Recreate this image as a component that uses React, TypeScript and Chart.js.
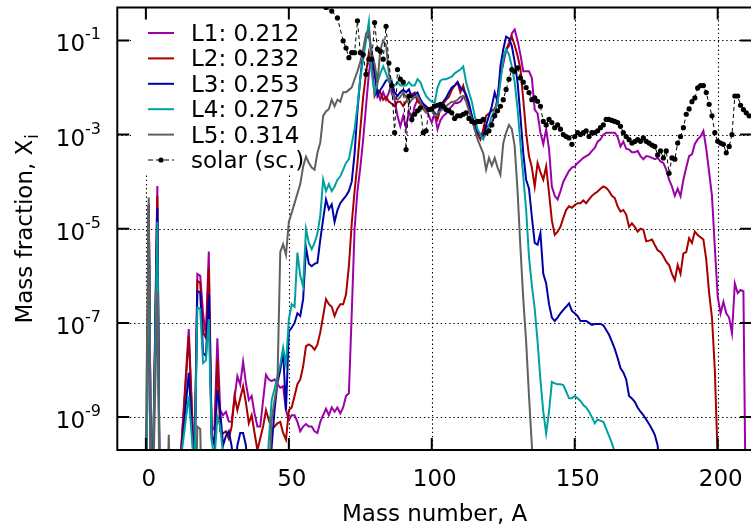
import React, { useEffect, useRef } from 'react';
import { Chart, registerables } from 'chart.js';

Chart.register(...registerables);

const FONT = '"DejaVu Sans", sans-serif';

// Mass number A vs. mass fraction X for each trajectory ([A, X] pairs)
const L1: number[][] = [
  [0,1e-12],[1,3.2e-5],[2,1e-12],[4,8.1e-5],[5,1e-12],[12,1e-10],[15,7.4e-8],[17,6.3e-11],[18,1.1e-6],[19,1.0e-6],
  [20,1.6e-7],[21,5.2e-8],[22,3.3e-6],[23,5.0e-10],[24,6.3e-10],[25,4.7e-8],[26,1.4e-9],[27,1.1e-9],[28,1.3e-9],[29,8.1e-10],
  [30,7.9e-10],[31,2.5e-9],[32,7.4e-9],[33,4.9e-9],[34,1.5e-8],[35,5.2e-9],[36,2.3e-9],[37,2.8e-9],[38,1.2e-9],[39,6.3e-10],
  [40,6.3e-10],[41,2.3e-9],[42,7.9e-9],[43,6.3e-9],[44,5.8e-9],[45,6.3e-9],[46,5.0e-9],[47,4.2e-9],[48,4.5e-9],[49,1.4e-9],
  [50,8.7e-10],[51,1.1e-9],[52,1.1e-9],[53,7.9e-10],[54,5.0e-10],[55,6.3e-10],[56,7.1e-10],[57,6.3e-10],[58,6.3e-10],[59,5.0e-10],
  [60,4.6e-10],[61,7.9e-10],[62,1.1e-9],[63,1.5e-9],[64,1.1e-9],[65,1.6e-9],[66,1.3e-9],[67,1.6e-9],[68,1.2e-9],[69,1.6e-9],
  [70,2.8e-9],[71,3.2e-9],[72,1.6e-7],[73,1.0e-5],[74,6.3e-5],[75,2.0e-4],[76,7.9e-4],[77,4.0e-3],[78,2.0e-2],[79,5.6e-2],
  [80,2.5e-2],[81,7.9e-3],[82,5.5e-3],[83,7.9e-3],[84,5.5e-3],[85,7.9e-3],[86,1.3e-2],[87,5.5e-3],[88,2.5e-3],[89,1.5e-3],
  [90,2.5e-3],[91,1.4e-3],[92,3.2e-3],[93,2.0e-3],[94,4.0e-3],[95,5.5e-3],[96,4.5e-3],[97,4.0e-3],[98,3.5e-3],[99,2.5e-3],
  [100,1.8e-3],[101,2.8e-3],[102,1.3e-3],[103,2.0e-3],[104,2.5e-3],[105,2.8e-3],[106,3.5e-3],[107,4.0e-3],[108,4.7e-3],[109,4.7e-3],
  [110,5.0e-3],[111,6.3e-3],[112,6.6e-3],[113,4.0e-3],[114,2.5e-3],[115,1.3e-3],[116,1.1e-3],[117,1.0e-3],[118,9.1e-4],[119,1.4e-3],
  [120,1.6e-3],[121,1.8e-3],[122,2.5e-3],[123,6.6e-3],[124,1.7e-2],[125,3.2e-2],[126,6.3e-2],[127,7.6e-2],[128,0.14],[129,0.17],
  [130,0.10],[131,5.0e-2],[132,2.2e-2],[133,2.2e-2],[134,2.2e-2],[135,1.6e-2],[136,3.4e-3],[137,2.8e-3],[138,1.1e-3],[139,6.3e-4],
  [140,1.3e-3],[141,5.0e-4],[142,7.9e-5],[143,5.0e-5],[144,4.2e-5],[145,6.3e-5],[146,1.0e-4],[147,1.3e-4],[148,1.7e-4],[149,2.0e-4],
  [150,2.1e-4],[151,2.5e-4],[152,2.8e-4],[153,3.2e-4],[154,3.5e-4],[155,3.8e-4],[156,4.5e-4],[157,5.2e-4],[158,7.1e-4],[159,7.9e-4],
  [160,1.0e-3],[161,1.1e-3],[162,1.1e-3],[163,1.1e-3],[164,1.1e-3],[165,8.9e-4],[166,5.6e-4],[167,7.1e-4],[168,5.0e-4],[169,4.8e-4],
  [170,4.2e-4],[171,4.2e-4],[172,4.5e-4],[173,3.5e-4],[174,3.0e-4],[175,3.5e-4],[176,3.4e-4],[177,3.2e-4],[178,3.0e-4],[179,3.2e-4],
  [180,2.7e-4],[181,2.5e-4],[182,1.8e-4],[183,1.1e-4],[184,7.9e-5],[185,5.0e-5],[186,7.1e-5],[187,4.9e-5],[188,1.1e-4],[189,2.0e-4],
  [190,3.5e-4],[191,3.8e-4],[192,6.3e-4],[193,7.9e-4],[194,9.1e-4],[195,1.2e-3],[196,5.0e-4],[197,1.6e-4],[198,5.0e-5],[199,4.0e-6],
  [200,3.6e-7],[201,1.6e-7],[202,2.8e-7],[203,1.6e-7],[204,1.3e-7],[205,6.0e-8],[206,6.9e-7],[207,4.3e-7],[208,5.0e-7],[209,4.7e-7],
  [210,1e-12]
];

const L2: number[][] = [
  [0,1e-12],[1,3.2e-5],[2,1e-12],[4,5.0e-5],[5,1e-12],[12,1e-10],[15,5.2e-8],[17,6.3e-11],[18,7.8e-7],[19,7.1e-7],
  [20,6.2e-8],[21,4.8e-8],[22,1.5e-6],[23,3.5e-10],[24,3.2e-10],[25,1.7e-8],[26,5.0e-10],[27,4.5e-10],[28,5.0e-10],[29,3.5e-10],
  [30,6.3e-10],[31,2.8e-9],[32,1.4e-9],[33,2.5e-9],[34,4.5e-9],[35,2.0e-9],[36,7.4e-10],[37,1.1e-9],[38,4.6e-10],[39,2.0e-10],
  [40,3.5e-10],[41,6.3e-10],[42,1.4e-9],[43,8.7e-10],[44,5.4e-10],[45,6.3e-10],[46,7.4e-10],[47,7.9e-10],[48,4.6e-10],[49,3.3e-10],
  [50,1.4e-9],[51,1.6e-9],[52,2.8e-9],[53,5.0e-9],[54,6.3e-9],[55,1.2e-8],[56,3.2e-8],[57,3.5e-8],[58,3.2e-8],[59,2.7e-8],
  [60,3.5e-8],[61,6.3e-8],[62,1.4e-7],[63,3.2e-7],[64,2.5e-7],[65,2.2e-7],[66,1.4e-7],[67,2.0e-7],[68,2.5e-7],[69,2.5e-7],
  [70,4.0e-7],[71,1.6e-6],[72,1.3e-5],[73,6.3e-5],[74,2.5e-4],[75,1.3e-3],[76,6.3e-3],[77,2.0e-2],[78,5.5e-2],[79,3.2e-2],
  [80,6.6e-3],[81,8.9e-3],[82,7.9e-3],[83,5.5e-3],[84,6.3e-3],[85,5.0e-3],[86,4.5e-3],[87,4.0e-3],[88,5.0e-3],[89,5.0e-3],
  [90,4.0e-3],[91,5.0e-3],[92,6.3e-3],[93,7.1e-3],[94,7.8e-3],[95,5.0e-3],[96,4.5e-3],[97,4.0e-3],[98,3.5e-3],[99,3.2e-3],
  [100,3.2e-3],[101,2.8e-3],[102,2.1e-3],[103,3.5e-3],[104,4.5e-3],[105,5.5e-3],[106,6.3e-3],[107,8.9e-3],[108,1.1e-2],[109,1.3e-2],
  [110,7.9e-3],[111,1.1e-2],[112,6.3e-3],[113,4.0e-3],[114,2.0e-3],[115,1.4e-3],[116,1.0e-3],[117,7.9e-4],[118,1.3e-3],[119,2.5e-3],
  [120,2.8e-3],[121,3.2e-3],[122,3.5e-3],[123,5.0e-3],[124,1.6e-2],[125,4.0e-2],[126,6.3e-2],[127,8.9e-2],[128,0.12],[129,7.9e-2],
  [130,4.7e-2],[131,2.5e-2],[132,5.5e-3],[133,1.1e-3],[134,3.5e-4],[135,2.0e-4],[136,7.9e-5],[137,2.5e-4],[138,1.6e-4],[139,1.1e-4],
  [140,2.1e-4],[141,5.8e-5],[142,1.5e-5],[143,7.4e-6],[144,8.7e-6],[145,1.1e-5],[146,1.7e-5],[147,2.5e-5],[148,3.0e-5],[149,2.8e-5],
  [150,3.2e-5],[151,3.5e-5],[152,3.5e-5],[153,4.0e-5],[154,3.5e-5],[155,4.2e-5],[156,5.0e-5],[157,5.6e-5],[158,6.2e-5],[159,7.1e-5],
  [160,7.9e-5],[161,7.4e-5],[162,6.3e-5],[163,5.0e-5],[164,4.5e-5],[165,3.0e-5],[166,2.3e-5],[167,2.5e-5],[168,2.0e-5],[169,1.1e-5],
  [170,1.3e-5],[171,1.1e-5],[172,8.7e-6],[173,1.0e-5],[174,9.5e-6],[175,5.4e-6],[176,5.6e-6],[177,5.9e-6],[178,4.5e-6],[179,3.5e-6],
  [180,3.2e-6],[181,2.6e-6],[182,2.0e-6],[183,1.7e-6],[184,1.1e-6],[185,8.1e-7],[186,1.7e-6],[187,1.1e-6],[188,3.0e-6],[189,3.2e-6],
  [190,6.3e-6],[191,5.0e-6],[192,8.7e-6],[193,7.4e-6],[194,6.6e-6],[195,5.9e-6],[196,2.2e-6],[197,4.3e-7],[198,1.3e-7],[199,1.0e-8],
  [200,1.3e-10],[201,1e-12]
];

const L3: number[][] = [
  [0,1e-12],[1,3.2e-5],[2,1e-12],[4,2.8e-5],[5,1e-12],[12,1e-10],[15,8.7e-9],[17,6.3e-11],[18,4.7e-7],[19,4.5e-7],
  [20,2.3e-8],[21,2.0e-8],[22,4.0e-7],[23,4.5e-10],[24,2.5e-10],[25,3.8e-9],[26,1.3e-9],[27,2.5e-10],[28,4.0e-10],[29,5.0e-10],
  [30,2.4e-10],[31,6.3e-11],[32,2.5e-10],[33,4.6e-10],[34,4.6e-10],[35,2.5e-10],[36,3.2e-11],[43,3.2e-11],[44,2.4e-10],[45,1.4e-9],
  [46,5.2e-9],[47,1.0e-8],[48,2.5e-8],[49,1.4e-9],[50,6.6e-8],[51,7.9e-8],[52,1.0e-7],[53,1.6e-7],[54,1.4e-7],[55,3.2e-7],
  [56,4.0e-6],[57,1.8e-6],[58,1.6e-6],[59,1.8e-6],[60,1.9e-6],[61,5.9e-6],[62,1.6e-5],[63,4.2e-5],[64,2.6e-5],[65,3.3e-5],
  [66,1.4e-5],[67,2.5e-5],[68,3.5e-5],[69,4.2e-5],[70,5.0e-5],[71,6.3e-5],[72,1.0e-4],[73,4.0e-4],[74,3.2e-3],[75,1.6e-2],
  [76,5.6e-2],[77,0.11],[78,0.13],[79,5.0e-2],[80,2.0e-2],[81,6.6e-3],[82,8.9e-3],[83,1.1e-2],[84,1.4e-2],[85,1.5e-2],
  [86,1.3e-2],[87,7.9e-3],[88,6.6e-3],[89,7.9e-3],[90,8.9e-3],[91,7.9e-3],[92,9.1e-3],[93,6.3e-3],[94,7.1e-3],[95,7.8e-3],
  [96,5.6e-3],[97,4.5e-3],[98,4.0e-3],[99,3.5e-3],[100,3.2e-3],[101,2.8e-3],[102,2.7e-3],[103,4.0e-3],[104,5.0e-3],[105,6.0e-3],
  [106,7.9e-3],[107,1.0e-2],[108,1.1e-2],[109,1.3e-2],[110,1.0e-2],[111,8.9e-3],[112,7.1e-3],[113,4.7e-3],[114,2.5e-3],[115,1.6e-3],
  [116,1.1e-3],[117,1.0e-3],[118,9.1e-4],[119,1.6e-3],[120,2.5e-3],[121,4.0e-3],[122,7.8e-3],[123,5.0e-3],[124,2.8e-2],[125,6.5e-2],
  [126,0.12],[127,0.11],[128,7.6e-2],[129,3.5e-2],[130,1.3e-2],[131,2.5e-3],[132,4.0e-4],[133,1.1e-4],[134,7.1e-5],[135,1.8e-5],
  [136,5.0e-6],[137,4.6e-6],[138,8.1e-6],[139,1.1e-6],[140,6.9e-7],[141,2.5e-7],[142,1.3e-7],[143,1.1e-7],[144,1.3e-7],[145,1.6e-7],
  [146,1.9e-7],[147,2.2e-7],[148,2.6e-7],[149,1.8e-7],[150,1.6e-7],[151,1.4e-7],[152,1.1e-7],[153,1.1e-7],[154,1.1e-7],[155,1.0e-7],
  [156,9.1e-8],[157,9.5e-8],[158,9.5e-8],[159,9.5e-8],[160,8.9e-8],[161,7.1e-8],[162,5.6e-8],[163,4.0e-8],[164,2.8e-8],[165,1.8e-8],
  [166,1.1e-8],[167,8.9e-9],[168,6.3e-9],[169,2.8e-9],[170,2.5e-9],[171,2.1e-9],[172,1.6e-9],[173,1.3e-9],[174,1.1e-9],[175,8.9e-10],
  [176,7.1e-10],[177,5.6e-10],[178,4.2e-10],[179,2.5e-10],[180,3.2e-11]
];

const L4: number[][] = [
  [0,1e-12],[1,2.2e-5],[2,1e-12],[4,1.4e-5],[5,1e-12],[12,1e-10],[15,2.8e-9],[17,6.3e-11],[18,2.1e-7],[19,2.0e-7],
  [20,1.4e-8],[21,1.6e-8],[22,1.2e-7],[23,3.2e-10],[24,1.3e-10],[25,1.0e-9],[26,6.3e-10],[27,1.6e-10],[28,3.2e-11],[42,3.2e-11],
  [43,3.2e-10],[44,2.3e-9],[45,4.0e-9],[46,7.4e-9],[47,1.3e-8],[48,3.0e-8],[49,1.3e-8],[50,1.2e-7],[51,2.5e-7],[52,2.2e-7],
  [53,3.1e-6],[54,1.0e-6],[55,6.0e-7],[56,9.8e-6],[57,5.0e-6],[58,3.7e-6],[59,5.0e-6],[60,7.9e-6],[61,1.9e-5],[62,1.1e-4],
  [63,6.3e-5],[64,8.9e-5],[65,6.3e-5],[66,7.9e-5],[67,1.1e-4],[68,1.3e-4],[69,1.8e-4],[70,2.5e-4],[71,3.0e-4],[72,6.3e-4],
  [73,1.3e-3],[74,4.0e-3],[75,1.6e-2],[76,4.0e-2],[77,0.10],[78,0.25],[79,2.0e-2],[80,7.8e-3],[81,1.3e-2],[82,2.0e-2],
  [83,2.8e-2],[84,2.0e-2],[85,1.3e-2],[86,1.1e-2],[87,1.1e-2],[88,1.3e-2],[89,1.1e-2],[90,1.1e-2],[91,1.1e-2],[92,1.3e-2],
  [93,1.1e-2],[94,1.1e-2],[95,1.5e-2],[96,1.3e-2],[97,8.9e-3],[98,6.6e-3],[99,5.6e-3],[100,5.0e-3],[101,4.7e-3],[102,1.0e-2],
  [103,1.4e-2],[104,1.5e-2],[105,1.5e-2],[106,1.6e-2],[107,1.7e-2],[108,2.0e-2],[109,2.2e-2],[110,2.4e-2],[111,2.8e-2],[112,1.3e-2],
  [113,7.9e-3],[114,5.0e-3],[115,2.5e-3],[116,1.3e-3],[117,1.0e-3],[118,7.9e-4],[119,1.1e-3],[120,1.5e-3],[121,2.5e-3],[122,3.2e-3],
  [123,4.7e-3],[124,1.3e-2],[125,4.0e-2],[126,6.5e-2],[127,5.0e-2],[128,2.8e-2],[129,1.3e-2],[130,3.5e-3],[131,6.3e-4],[132,1.3e-4],
  [133,2.5e-5],[134,2.5e-6],[135,6.3e-7],[136,2.0e-7],[137,4.0e-8],[138,6.2e-9],[139,1.3e-9],[140,4.5e-10],[141,1.3e-9],[142,5.6e-9],
  [143,5.2e-9],[144,5.0e-9],[145,5.0e-9],[146,4.8e-9],[147,3.5e-9],[148,2.5e-9],[149,2.5e-9],[150,2.8e-9],[151,2.5e-9],[152,2.2e-9],
  [153,1.8e-9],[154,1.6e-9],[155,1.3e-9],[156,1.0e-9],[157,7.4e-10],[158,8.9e-10],[159,8.3e-10],[160,7.9e-10],[161,5.6e-10],[162,4.0e-10],
  [163,2.8e-10],[164,1.8e-10],[165,3.2e-11]
];

const L5: number[][] = [
  [0,3.5e-10],[1,4.6e-5],[2,1e-12],[4,4.7e-7],[5,1e-12],[7,1e-12],[8,4.2e-10],[9,1e-12],[17,1e-12],[18,6.3e-10],
  [19,5.6e-10],[20,1e-12],[43,3.2e-11],[44,8.7e-10],[45,2.3e-9],[46,5.0e-9],[47,3.2e-6],[48,4.7e-6],[49,2.8e-6],[50,1.4e-5],
  [51,2.2e-5],[52,3.5e-5],[53,5.6e-5],[54,8.9e-5],[55,2.1e-4],[56,3.4e-4],[57,2.5e-4],[58,2.0e-4],[59,1.8e-4],[60,4.1e-4],
  [61,6.8e-4],[62,2.5e-3],[63,3.1e-3],[64,3.5e-3],[65,5.5e-3],[66,4.0e-3],[67,5.5e-3],[68,5.0e-3],[69,7.9e-3],[70,7.9e-3],
  [71,8.9e-3],[72,1.0e-2],[73,1.5e-2],[74,2.2e-2],[75,3.5e-2],[76,6.5e-2],[77,0.14],[78,0.16],[79,5.0e-2],[80,3.2e-2],
  [81,1.3e-2],[82,6.3e-2],[83,0.10],[84,7.9e-2],[85,2.0e-2],[86,7.1e-3],[87,6.3e-3],[88,5.5e-3],[89,6.3e-3],[90,7.8e-3],
  [91,6.3e-3],[92,4.5e-3],[93,5.5e-3],[94,6.3e-3],[95,6.6e-3],[96,5.0e-3],[97,3.5e-3],[98,2.9e-3],[99,3.2e-3],[100,3.2e-3],
  [101,2.5e-3],[102,2.8e-3],[103,3.2e-3],[104,3.5e-3],[105,4.0e-3],[106,4.5e-3],[107,5.0e-3],[108,5.0e-3],[109,5.5e-3],[110,6.3e-3],
  [111,6.6e-3],[112,5.0e-3],[113,3.2e-3],[114,2.1e-3],[115,1.3e-3],[116,7.9e-4],[117,5.6e-4],[118,4.0e-4],[119,1.8e-4],[120,3.2e-4],
  [121,2.2e-4],[122,3.2e-4],[123,2.0e-4],[124,1.4e-4],[125,6.6e-4],[126,1.1e-3],[127,1.6e-3],[128,1.3e-3],[129,5.6e-4],[130,6.3e-5],
  [131,4.0e-6],[132,3.2e-7],[133,4.0e-8],[134,2.8e-9],[135,2.5e-10],[136,1e-11]
];

const SOLAR: number[][] = [
  [63,0.50],[65,0.42],[67,0.30],[69,9.8e-2],[70,6.9e-2],[71,4.3e-2],[72,5.5e-2],[73,5.5e-2],[74,0.26],[75,5.5e-2],
  [76,5.0e-2],[77,1.9e-2],[78,4.0e-2],[79,4.0e-2],[80,0.24],[81,6.5e-2],[82,5.9e-2],[83,4.0e-2],[84,0.20],[85,3.3e-2],
  [86,1.1e-2],[87,1.1e-3],[88,2.4e-2],[89,1.5e-2],[90,1.3e-2],[91,4.8e-4],[92,6.6e-3],[93,2.1e-3],[94,2.7e-3],[95,3.2e-3],
  [96,3.7e-3],[97,1.1e-3],[98,1.2e-3],[99,3.4e-3],[100,3.5e-3],[101,4.0e-3],[102,4.2e-3],[103,4.4e-3],[104,4.0e-3],[105,3.4e-3],
  [106,3.2e-3],[107,2.9e-3],[108,2.2e-3],[109,2.5e-3],[110,2.5e-3],[111,2.7e-3],[112,2.9e-3],[113,2.2e-3],[114,1.9e-3],[115,1.8e-3],
  [116,1.9e-3],[117,1.9e-3],[118,2.1e-3],[119,1.1e-3],[120,1.2e-3],[121,1.6e-3],[122,2.5e-3],[123,3.2e-3],[124,4.0e-3],[125,5.5e-3],
  [126,9.1e-3],[127,1.5e-2],[128,2.4e-2],[129,2.2e-2],[130,2.6e-2],[131,1.6e-2],[132,1.3e-2],[133,1.0e-2],[134,7.8e-3],[135,5.5e-3],
  [136,6.0e-3],[137,5.1e-3],[138,4.0e-3],[139,1.9e-3],[140,1.6e-3],[141,2.1e-3],[142,1.8e-3],[143,1.4e-3],[144,1.6e-3],[145,1.3e-3],
  [146,1.0e-3],[147,9.1e-4],[148,8.5e-4],[149,6.2e-4],[150,9.1e-4],[151,1.1e-3],[152,1.0e-3],[153,1.1e-3],[154,1.2e-3],[155,9.1e-4],
  [156,1.1e-3],[157,1.1e-3],[158,1.2e-3],[159,1.4e-3],[160,1.6e-3],[161,2.1e-3],[162,2.1e-3],[163,2.0e-3],[164,1.9e-3],[165,1.8e-3],
  [166,1.5e-3],[167,1.1e-3],[168,9.1e-4],[169,7.8e-4],[170,6.6e-4],[171,7.1e-4],[172,7.8e-4],[173,7.2e-4],[174,8.5e-4],[175,7.2e-4],
  [176,6.6e-4],[177,6.0e-4],[178,5.6e-4],[179,3.7e-4],[180,4.5e-4],[181,3.2e-4],[182,4.5e-4],[183,1.5e-4],[184,3.2e-4],[185,3.0e-4],
  [186,6.6e-4],[187,9.1e-4],[188,1.4e-3],[189,2.7e-3],[190,3.5e-3],[191,5.0e-3],[192,6.0e-3],[193,9.8e-3],[194,1.1e-2],[195,1.1e-2],
  [196,7.8e-3],[197,4.4e-3],[198,2.5e-3],[199,1.1e-3],[200,7.2e-4],[201,6.6e-4],[202,6.2e-4],[203,4.1e-4],[204,5.6e-4],[205,1.0e-3],
  [206,6.6e-3],[207,6.6e-3],[208,4.2e-3],[209,3.4e-3],[210,2.9e-3],[211,2.5e-3]
];

const SERIES_LABELS = ['L1: 0.212', 'L2: 0.232', 'L3: 0.253', 'L4: 0.275', 'L5: 0.314', 'solar (sc.)'];
const SERIES_COLORS = ['#9c00a8', '#a80000', '#0000a8', '#00a0a0', '#606060', '#000000'];

const X_TICKS = [0, 50, 100, 150, 200];
const X_TICK_LABELS = ['0', '50', '100', '150', '200'];
const Y_TICKS = [1e-1, 1e-3, 1e-5, 1e-7, 1e-9];
const Y_TICK_EXPONENTS = ['-1', '-3', '-5', '-7', '-9'];

const X_TITLE = 'Mass number, A';
const Y_TITLE = 'Mass fraction, X';
const Y_TITLE_SUB = 'i';

function toPoints(rows: number[][]) {
  return rows.map((r) => ({ x: r[0], y: r[1] }));
}

const decorPlugin = {
  id: 'decor',
  beforeDatasetsDraw(chart: any) {
    const { ctx, chartArea: a, scales } = chart;
    ctx.save();
    ctx.strokeStyle = '#000';
    ctx.lineWidth = 1.1;
    ctx.setLineDash([1.4, 2.8]);
    X_TICKS.forEach((v) => {
      const x = Math.round(scales.x.getPixelForValue(v)) + 0.5;
      ctx.beginPath();
      ctx.moveTo(x, a.top);
      ctx.lineTo(x, a.bottom);
      ctx.stroke();
    });
    Y_TICKS.forEach((v) => {
      const y = Math.round(scales.y.getPixelForValue(v)) + 0.5;
      ctx.beginPath();
      ctx.moveTo(a.left, y);
      ctx.lineTo(a.right, y);
      ctx.stroke();
    });
    ctx.setLineDash([]);
    // opaque key box
    ctx.fillStyle = '#fff';
    ctx.fillRect(131, a.top + 1, 238, 165);
    ctx.restore();
  },
  afterDatasetsDraw(chart: any) {
    const { ctx, chartArea: a, scales } = chart;
    ctx.save();
    // frame
    ctx.strokeStyle = '#000';
    ctx.lineWidth = 2;
    ctx.strokeRect(a.left, a.top, a.right - a.left, a.bottom - a.top);
    // ticks
    const TL = 12;
    X_TICKS.forEach((v) => {
      const x = scales.x.getPixelForValue(v);
      ctx.beginPath();
      ctx.moveTo(x, a.bottom);
      ctx.lineTo(x, a.bottom - TL);
      ctx.moveTo(x, a.top);
      ctx.lineTo(x, a.top + TL);
      ctx.stroke();
    });
    Y_TICKS.forEach((v) => {
      const y = scales.y.getPixelForValue(v);
      ctx.beginPath();
      ctx.moveTo(a.left, y);
      ctx.lineTo(a.left + TL, y);
      ctx.moveTo(a.right, y);
      ctx.lineTo(a.right - TL, y);
      ctx.stroke();
    });

    ctx.fillStyle = '#000';
    // x tick labels
    ctx.font = `23px ${FONT}`;
    ctx.textAlign = 'center';
    ctx.textBaseline = 'alphabetic';
    X_TICKS.forEach((v, i) => {
      const x = scales.x.getPixelForValue(v);
      ctx.fillText(X_TICK_LABELS[i], x + 3, 486);
    });
    // y tick labels with superscript exponents
    Y_TICKS.forEach((v, i) => {
      const y = scales.y.getPixelForValue(v);
      ctx.textAlign = 'right';
      ctx.font = `16px ${FONT}`;
      const ew = ctx.measureText(Y_TICK_EXPONENTS[i]).width;
      ctx.fillText(Y_TICK_EXPONENTS[i], 101, y - 1);
      ctx.font = `23px ${FONT}`;
      ctx.fillText('10', 101 - ew, y + 11);
    });
    // x title
    ctx.textAlign = 'center';
    ctx.font = `23px ${FONT}`;
    ctx.fillText(X_TITLE, (a.left + a.right) / 2, 521);
    // y title (rotated) with subscript
    ctx.save();
    ctx.translate(32, (a.top + a.bottom) / 2);
    ctx.rotate(-Math.PI / 2);
    ctx.textAlign = 'left';
    ctx.font = `23px ${FONT}`;
    const w1 = ctx.measureText(Y_TITLE).width;
    ctx.font = `17px ${FONT}`;
    const w2 = ctx.measureText(Y_TITLE_SUB).width;
    const start = -(w1 + w2 + 1) / 2;
    ctx.font = `23px ${FONT}`;
    ctx.fillText(Y_TITLE, start, 0);
    ctx.font = `17px ${FONT}`;
    ctx.fillText(Y_TITLE_SUB, start + w1 + 1, 6);
    ctx.restore();

    // key
    const rowY0 = 33;
    const rowH = 25.4;
    SERIES_LABELS.forEach((label, i) => {
      const y = rowY0 + i * rowH;
      ctx.strokeStyle = SERIES_COLORS[i];
      if (i < 5) {
        ctx.lineWidth = 2;
        ctx.setLineDash([]);
        ctx.beginPath();
        ctx.moveTo(148, y);
        ctx.lineTo(174, y);
        ctx.stroke();
      } else {
        ctx.lineWidth = 1;
        ctx.setLineDash([5, 3]);
        ctx.beginPath();
        ctx.moveTo(148, y);
        ctx.lineTo(174, y);
        ctx.stroke();
        ctx.setLineDash([]);
        ctx.fillStyle = '#000';
        ctx.beginPath();
        ctx.arc(161, y, 2.6, 0, Math.PI * 2);
        ctx.fill();
      }
      ctx.fillStyle = '#000';
      ctx.textAlign = 'left';
      ctx.font = `23px ${FONT}`;
      ctx.fillText(label, 191, y + 8);
    });
    ctx.restore();
  },
};

export default function App() {
  const ref = useRef<HTMLCanvasElement>(null);
  useEffect(() => {
    const canvas = ref.current;
    if (!canvas) return;
    const seriesRows = [L1, L2, L3, L4, L5];
    const datasets: any[] = seriesRows.map((rows, i) => ({
      label: SERIES_LABELS[i],
      data: toPoints(rows),
      borderColor: SERIES_COLORS[i],
      backgroundColor: SERIES_COLORS[i],
      borderWidth: 2,
      pointRadius: 0,
      tension: 0,
      fill: false,
      order: 10 - i,
    }));
    datasets.push({
      label: SERIES_LABELS[5],
      data: toPoints(SOLAR),
      borderColor: '#000',
      backgroundColor: '#000',
      borderWidth: 1,
      borderDash: [4, 3],
      pointRadius: 2.6,
      pointBorderWidth: 0,
      pointBackgroundColor: '#000',
      tension: 0,
      fill: false,
      order: 1,
    });
    const chart = new Chart(canvas, {
      type: 'line',
      data: { datasets },
      options: {
        responsive: false,
        animation: false,
        devicePixelRatio: 1,
        events: [],
        layout: { padding: { top: 7.5, right: 2.3, left: 0, bottom: 0 } },
        plugins: { legend: { display: false }, tooltip: { enabled: false } },
        scales: {
          x: {
            type: 'linear',
            min: -10,
            max: 212,
            position: 'bottom',
            grid: { display: false },
            border: { display: false },
            ticks: { display: false },
            afterFit: (s: any) => { s.height = 77; },
          },
          y: {
            type: 'logarithmic',
            min: 2e-10,
            max: 0.5,
            position: 'left',
            grid: { display: false },
            border: { display: false },
            ticks: { display: false },
            afterFit: (s: any) => { s.width = 117.3; },
          },
        },
      },
      plugins: [decorPlugin],
    });
    return () => chart.destroy();
  }, []);
  return (
    <div style={{ position: 'fixed', left: 0, top: 0, width: 751, height: 527, overflow: 'hidden', background: '#fff' }}>
      <canvas ref={ref} width={756} height={527} style={{ display: 'block', width: 756, height: 527 }} />
    </div>
  );
}
